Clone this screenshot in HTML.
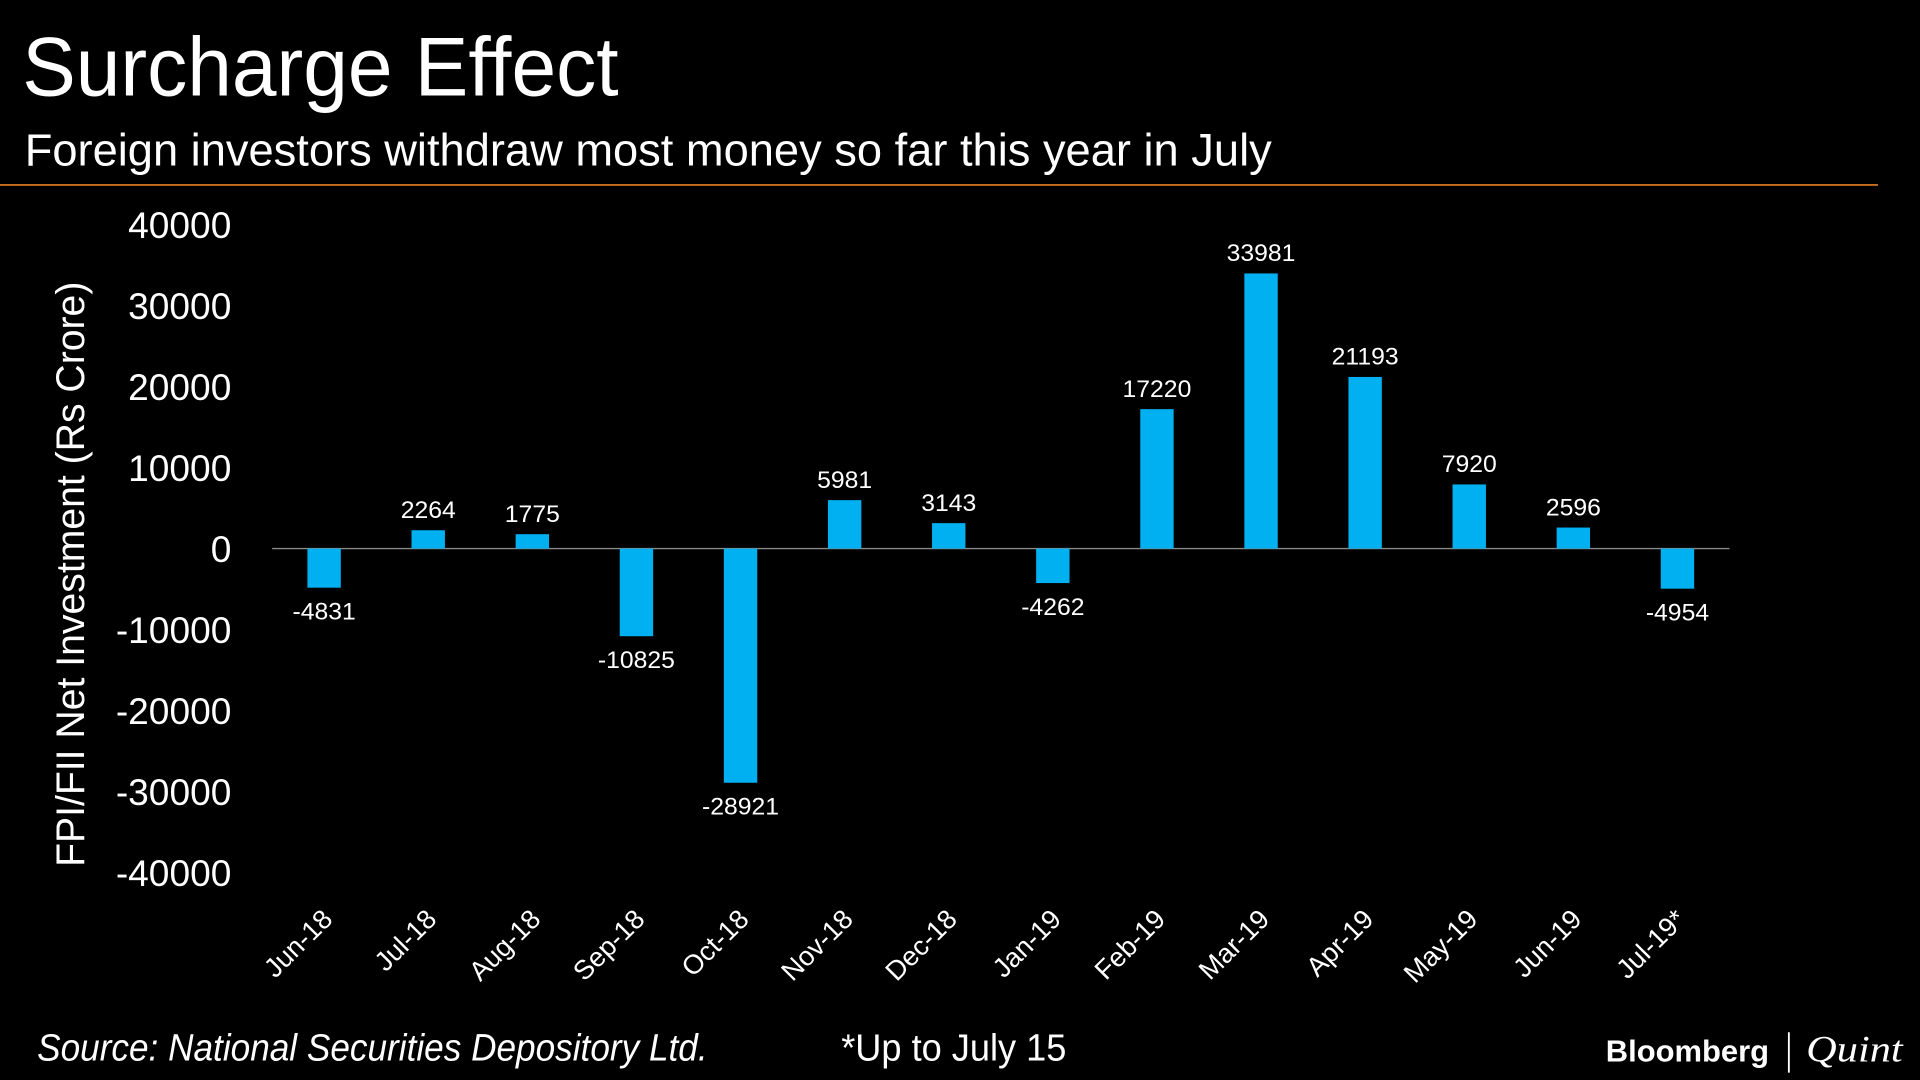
<!DOCTYPE html>
<html><head><meta charset="utf-8"><style>
html,body{margin:0;padding:0;background:#000;overflow:hidden}
svg{display:block}
</style></head><body>
<svg id="chart" width="1920" height="1080" viewBox="0 0 1552 882" preserveAspectRatio="none" xmlns="http://www.w3.org/2000/svg">
<rect width="1552" height="882" fill="#000"/>
<text x="18" y="78" fill="#fff" font-family="'Liberation Sans',sans-serif" font-size="68" textLength="482" lengthAdjust="spacingAndGlyphs">Surcharge Effect</text>
<text x="20" y="135" fill="#fff" font-family="'Liberation Sans',sans-serif" font-size="37" textLength="1008" lengthAdjust="spacingAndGlyphs">Foreign investors withdraw most money so far this year in July</text>
<line x1="0" y1="151" x2="1518" y2="151" stroke="#c8701e" stroke-width="1.5"/>
<text transform="translate(68,469) rotate(-90)" text-anchor="middle" fill="#fff" font-family="'Liberation Sans',sans-serif" font-size="32" textLength="478" lengthAdjust="spacingAndGlyphs">FPI/FII Net Investment (Rs Crore)</text>
<g id="yticks"></g>
<g id="bars"></g>
<g id="xlabels"></g>
<text x="30" y="866" fill="#fff" font-style="italic" font-family="'Liberation Sans',sans-serif" font-size="31" textLength="542" lengthAdjust="spacingAndGlyphs">Source: National Securities Depository Ltd.</text>
<text x="680" y="866" fill="#fff" font-family="'Liberation Sans',sans-serif" font-size="31" textLength="182" lengthAdjust="spacingAndGlyphs">*Up to July 15</text>
<text x="1298" y="867" fill="#fff" font-weight="bold" font-family="'Liberation Sans',sans-serif" font-size="25" textLength="132" lengthAdjust="spacingAndGlyphs">Bloomberg</text>
<line x1="1446" y1="843" x2="1446" y2="876" stroke="#fff" stroke-width="1.5"/>
<text x="1460" y="867" fill="#fff" font-style="italic" font-family="'Liberation Serif',serif" font-size="30" textLength="78" lengthAdjust="spacingAndGlyphs">Quint</text>
</svg>
<script>
const categories=["Jun-18","Jul-18","Aug-18","Sep-18","Oct-18","Nov-18","Dec-18","Jan-19","Feb-19","Mar-19","Apr-19","May-19","Jun-19","Jul-19*"];
const values=[-4831,2264,1775,-10825,-28921,5981,3143,-4262,17220,33981,21193,7920,2596,-4954];
const yTicks=[40000,30000,20000,10000,0,-10000,-20000,-30000,-40000];
const NS="http://www.w3.org/2000/svg";
const y0=448, pxPer=264.5/40000;
function yScale(v){return y0 - v*pxPer;}
function xScale(i){return 262 + i*84.15;}
function mk(tag,attrs,parent){const e=document.createElementNS(NS,tag);for(const k in attrs)e.setAttribute(k,attrs[k]);parent.appendChild(e);return e;}
const yt=document.getElementById('yticks');
yTicks.forEach(t=>{
  const e=mk('text',{x:187,y:yScale(t)+11,'text-anchor':'end',fill:'#fff','font-family':"'Liberation Sans',sans-serif",'font-size':30},yt);
  
  
  e.textContent=t;
});
const bg=document.getElementById('bars');
const ax=mk('line',{x1:220,x2:1398,y1:y0,y2:y0,stroke:'#888','stroke-width':1.2},bg);


const xl=document.getElementById('xlabels');
values.forEach((v,i)=>{
  const cx=xScale(i), y=yScale(v);
  const r=mk('rect',{x:cx-13.5,y:Math.min(y,y0),width:27,height:Math.abs(y-y0),fill:'#00b0f0'},bg);
  
  
  const ly = v>=0 ? y-10 : y+26;
  const t=mk('text',{x:cx,y:ly,'text-anchor':'middle',fill:'#fff','font-family':"'Liberation Sans',sans-serif",'font-size':20},bg);
  
  
  t.textContent=v;
  const l=mk('text',{transform:`translate(${cx+8},${752}) rotate(-45)`,'text-anchor':'end',fill:'#fff','font-family':"'Liberation Sans',sans-serif",'font-size':22},xl);
  
  
  l.textContent=categories[i];
});
</script>
</body></html>
